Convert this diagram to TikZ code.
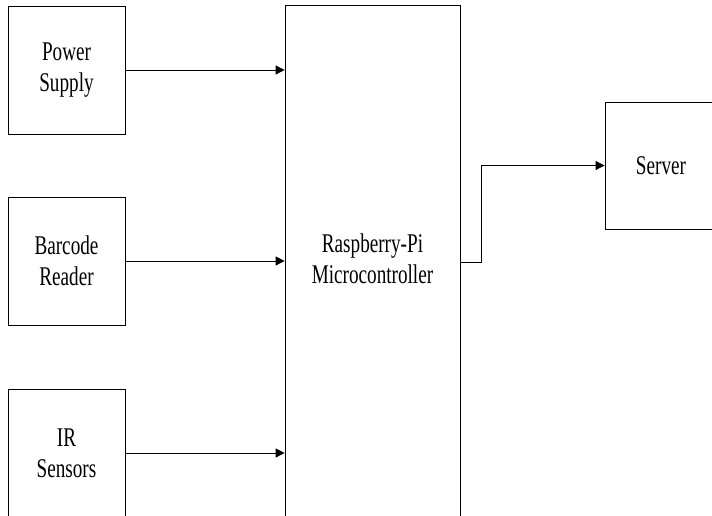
\documentclass[tikz,border=0pt]{standalone}
\usepackage{fontspec}
\setmainfont{Liberation Serif}[FakeStretch=0.71]
\usepackage{tikz}
\usetikzlibrary{positioning,calc,arrows.meta}

\tikzset{
    block/.style={draw, line width=0.8pt, align=center, font=\fontsize{27}{31}\selectfont},
    link/.style={line width=0.8pt, -{Triangle[length=9pt,width=9pt]}}
}

\begin{document}
\begin{tikzpicture}[x=1pt, y=-1pt]
    \useasboundingbox (0,0) rectangle (712,516);

    % Inputs
    \node[block, minimum width=117pt, minimum height=128pt] (power) at (66.5,70) {Power\\Supply};
    \node[block, minimum width=117pt, minimum height=128pt] (barcode) at (66.5,261) {Barcode\\Reader};
    \node[block, minimum width=117pt, minimum height=128pt] (ir) at (66.5,453) {IR\\Sensors};

    % Controller
    \node[block, minimum width=175pt, minimum height=516pt] (mcu) at (372.5,263) {};
    \node[font=\fontsize{27}{31}\selectfont, align=center] (mcutext) at (372.5,259) {Raspberry-Pi\\Microcontroller};

    % Output
    \node[block, minimum width=112pt, minimum height=127pt] (server) at (661,165.5) {Server};

    \draw[link] (power.east) -- (power.east -| mcu.west);
    \draw[link] (barcode.east) -- (barcode.east -| mcu.west);
    \draw[link] (ir.east) -- (ir.east -| mcu.west);

    \coordinate (bend) at (481,262);
    \draw[link] (bend -| mcu.east) -- (bend) |- (server.west);
\end{tikzpicture}
\end{document}
